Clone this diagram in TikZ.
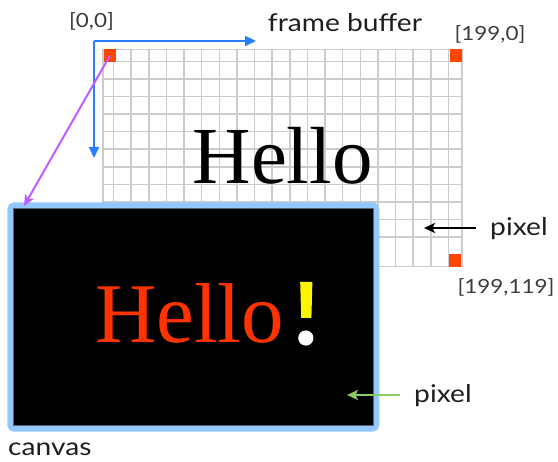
\documentclass[tikz,border=0pt]{standalone}
\usepackage{fontspec}
\setmainfont{Lato}[FakeStretch=1.15]
\newfontfamily\serifface{Liberation Serif}
\usetikzlibrary{arrows.meta}
\definecolor{fbblue}{RGB}{38,128,255}
\definecolor{fbpurple}{RGB}{192,92,255}
\definecolor{fborange}{RGB}{255,69,0}
\definecolor{fbborder}{RGB}{146,200,255}
\definecolor{fbgreen}{RGB}{140,200,100}
\definecolor{fbred}{RGB}{255,51,0}
\definecolor{fbyellow}{RGB}{250,245,0}
\definecolor{fbgrid}{RGB}{204,204,204}
\definecolor{fbtext}{RGB}{30,30,30}
\definecolor{fbgray}{RGB}{60,60,60}
\tikzset{
  label/.style={font=\fontsize{24.5}{28}\selectfont, text=fbtext, inner sep=0pt},
  coordlabel/.style={font=\fontsize{19.5}{23}\selectfont, text=fbgray, inner sep=0pt},
  pixsq/.style={fill=fborange, draw=none, inner sep=0pt, minimum width=12pt, minimum height=12.4pt},
  gridline/.style={draw=fbgrid, line width=1.5pt},
  axisarrow/.style={draw=fbblue, line width=2.2pt, -{Triangle[length=11pt,width=10pt]}},
  ptrarrow/.style={line width=2.3pt, -{Stealth[length=11pt,width=10pt,inset=2.5pt]}}
}
\begin{document}
\begin{tikzpicture}[x=1pt,y=-1pt]
\useasboundingbox (0,0) rectangle (558,462);
% frame buffer grid
\foreach \k in {0,...,19} {
  \draw[gridline] ({113.5+17.63*\k},49.3) -- ({113.5+17.63*\k},266.7);
}
\foreach \k in {0,...,10} {
  \draw[gridline] (103,{61.7+17.51*\k}) -- (462,{61.7+17.51*\k});
}
\draw[gridline] (103,49.3) rectangle (462,266.7);
% corner pixels
\node[pixsq] (p00) at (110,55.5) {};
\node[pixsq] (p10) at (456,55.5) {};
\node[pixsq] (p11) at (455,260.5) {};
% black Hello
\node[font=\serifface\fontsize{81}{90}\selectfont, inner sep=0pt, anchor=base] (hello) at (282.5,184) {Hello};
% axes
\coordinate (origin) at (94,41);
\coordinate (xend) at (256,41);
\coordinate (yend) at (94,158);
\draw[axisarrow] (origin) -- (xend);
\draw[axisarrow] (origin) -- (yend);
% labels
\node[coordlabel] (l00) at (91.5,21) {[0,0]};
\node[label] (fb) at (345,23) {frame buffer};
\node[coordlabel] (l10) at (490,34) {[199,0]};
\node[coordlabel] (l11) at (506,287) {[199,119]};
\node[label, anchor=west] (pix1) at (490,229) {pixel};
\coordinate (pix1tip) at (424,228);
\draw[ptrarrow, draw=black] (476,228) -- (pix1tip);
% canvas
\node[draw=fbborder, fill=black, line width=6pt, rounded corners=4pt,
      minimum width=366pt, minimum height=223.4pt, inner sep=0pt] (canvas) at (193.3,317) {};
\draw[draw=fbgray!70!fbborder, line width=0.8pt] (13.6,208.6) rectangle (373,425.4);
\node[label, anchor=west] (canvaslbl) at (8,449) {canvas};
% purple arrow
\coordinate (ctip) at (24,206);
\draw[ptrarrow, draw=fbpurple, line width=2pt] (p00.center) -- (ctip);
% red Hello!
\node[font=\serifface\fontsize{85}{95}\selectfont, text=fbred, inner sep=0pt, anchor=base] (rhello) at (189.5,343) {Hello};
\fill[fbyellow] (300.2,282) -- (312.4,282) -- (311.4,318) -- (301.2,318) -- cycle;
\fill[white] (305.8,338) circle (7.6);
% green pixel
\node[label, anchor=west] (pix2) at (414,396) {pixel};
\coordinate (pix2tip) at (347,395);
\draw[ptrarrow, draw=fbgreen] (400,395) -- (pix2tip);
\end{tikzpicture}
\end{document}
